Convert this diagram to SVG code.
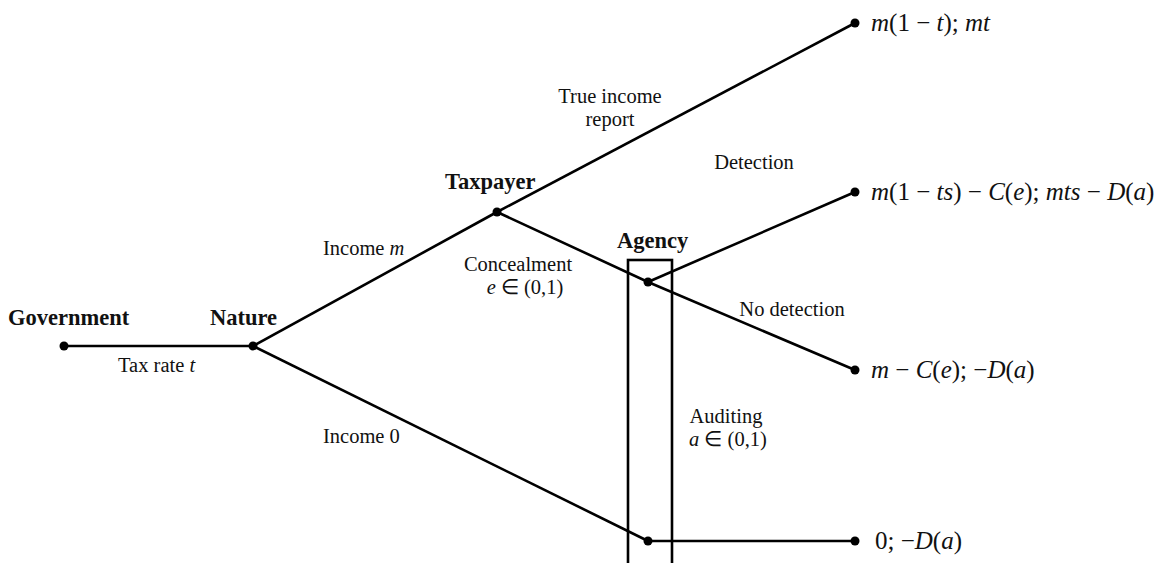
<svg xmlns="http://www.w3.org/2000/svg" width="1169" height="563" viewBox="0 0 1169 563">
<style>
.e{stroke:#000;stroke-width:2.6;fill:none}
.d{fill:#000}
.t{font-family:"Liberation Serif",serif;font-size:20.5px;fill:#111}
.b{font-family:"Liberation Serif",serif;font-size:22.5px;font-weight:bold;fill:#111}
.m{font-family:"Liberation Serif",serif;font-size:25px;fill:#111}
.i{font-style:italic}
</style>
<rect width="1169" height="563" fill="#fff"/>
<g id="connectors">
<line class="e" x1="64" y1="346" x2="253" y2="346"/>
<line class="e" x1="253" y1="346" x2="497" y2="212"/>
<line class="e" x1="253" y1="346" x2="648" y2="541"/>
<line class="e" x1="497" y1="212" x2="855" y2="23"/>
<polyline class="e" points="497,212 648,282 855,370"/>
<line class="e" x1="648" y1="282" x2="855" y2="192"/>
<line class="e" x1="648" y1="541" x2="855" y2="541"/>
</g>
<g id="agency-set"><rect class="e" x="628" y="260" width="44" height="310"/></g>
<g id="government"><circle class="d" cx="64" cy="346" r="4.5"/><text class="b" x="8" y="325">Government</text></g>
<g id="nature"><circle class="d" cx="253" cy="346" r="4.5"/><text class="b" x="210" y="325">Nature</text></g>
<g id="taxpayer"><circle class="d" cx="497" cy="212" r="4.5"/><text class="b" x="445" y="189">Taxpayer</text></g>
<g id="agency"><circle class="d" cx="648" cy="282" r="4.5"/><text class="b" x="617" y="248">Agency</text></g>
<g id="agency2"><circle class="d" cx="648" cy="541" r="4.5"/></g>
<g id="o1"><circle class="d" cx="855" cy="23" r="4.5"/><text class="m" x="871" y="31"><tspan class="i">m</tspan>(1 − <tspan class="i">t</tspan>); <tspan class="i">mt</tspan></text></g>
<g id="o2"><circle class="d" cx="855" cy="192" r="4.5"/><text class="m" x="871" y="200"><tspan class="i">m</tspan>(1 − <tspan class="i">ts</tspan>) − <tspan class="i">C</tspan>(<tspan class="i">e</tspan>); <tspan class="i">mts</tspan> − <tspan class="i">D</tspan>(<tspan class="i">a</tspan>)</text></g>
<g id="o3"><circle class="d" cx="855" cy="370" r="4.5"/><text class="m" x="871" y="378"><tspan class="i">m</tspan> − <tspan class="i">C</tspan>(<tspan class="i">e</tspan>); −<tspan class="i">D</tspan>(<tspan class="i">a</tspan>)</text></g>
<g id="o4"><circle class="d" cx="855" cy="541" r="4.5"/><text class="m" x="875" y="549">0; −<tspan class="i">D</tspan>(<tspan class="i">a</tspan>)</text></g>
<g id="labels">
<text class="t" x="118" y="372">Tax rate <tspan class="i">t</tspan></text>
<text class="t" x="323" y="255">Income <tspan class="i">m</tspan></text>
<text class="t" x="323" y="443">Income 0</text>
<text class="t" x="610" y="103" text-anchor="middle">True income</text>
<text class="t" x="610" y="126" text-anchor="middle">report</text>
<text class="t" x="518" y="271" text-anchor="middle">Concealment</text>
<text class="t" x="525" y="294" text-anchor="middle"><tspan class="i">e</tspan> ∈ (0,1)</text>
<text class="t" x="754" y="169" text-anchor="middle">Detection</text>
<text class="t" x="792" y="316" text-anchor="middle">No detection</text>
<text class="t" x="726" y="423" text-anchor="middle">Auditing</text>
<text class="t" x="728" y="446" text-anchor="middle"><tspan class="i">a</tspan> ∈ (0,1)</text>
</g>
</svg>
